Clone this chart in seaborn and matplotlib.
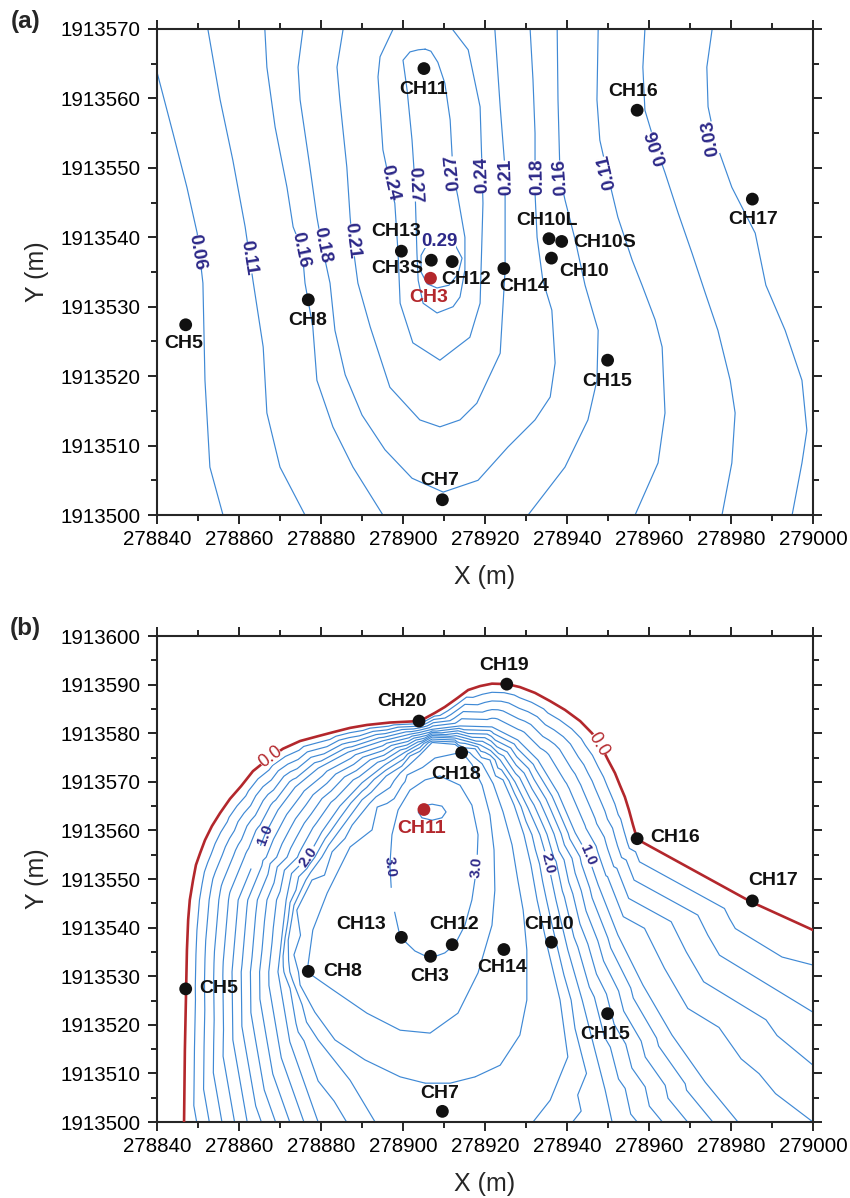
import numpy as np
import pandas as pd
import matplotlib
matplotlib.use("Agg")
import matplotlib.pyplot as plt
import matplotlib.tri as mtri
from matplotlib.path import Path
from matplotlib.patches import PathPatch
from matplotlib.ticker import MultipleLocator, FormatStrFormatter
import seaborn as sns

# ----------------------------------------------------------------- wells
WELL_NAMES = ["CH3", "CH3S", "CH5", "CH7", "CH8", "CH10", "CH10L", "CH10S", "CH11",
              "CH12", "CH13", "CH14", "CH15", "CH16", "CH17", "CH18", "CH19", "CH20"]
WELL_X = [278906.7, 278906.9, 278847.0, 278909.6, 278876.9, 278936.2, 278935.6, 278938.7, 278905.1,
          278912.0, 278899.6, 278924.6, 278949.9, 278957.1, 278985.2, 278914.3, 278925.3, 278903.9]
WELL_Y = [1913534.1, 1913536.7, 1913527.4, 1913502.2, 1913531.0, 1913537.0, 1913539.8, 1913539.4, 1913564.3,
          1913536.5, 1913538.0, 1913535.5, 1913522.3, 1913558.3, 1913545.5, 1913576.0, 1913590.1, 1913582.5]
A_WELLS = ["CH11", "CH16", "CH17", "CH10L", "CH10S", "CH10", "CH13", "CH3S", "CH12", "CH3",
           "CH14", "CH5", "CH8", "CH15", "CH7"]
A_HIGHLIGHT = "CH3"
B_WELLS = ["CH19", "CH20", "CH18", "CH11", "CH16", "CH17", "CH13", "CH12", "CH3", "CH14",
           "CH10", "CH8", "CH5", "CH15", "CH7"]
B_HIGHLIGHT = "CH11"

# ------------------------------------------------ panel (a) contour lines
A003_X = [278975.4, 278974.1, 278974.4, 278976.1, 278980.2, 278985.9, 278988.5, 278993.2, 278997.3, 278998.5, 278997.3, 278994.9]
A003_Y = [1913570.0, 1913564.5, 1913558.8, 1913554.0, 1913547.2, 1913540.6, 1913533.1, 1913526.6, 1913519.4, 1913512.2, 1913507.5, 1913500.0]
A006L_X = [278840.0, 278843.9, 278847.3, 278849.8, 278851.2, 278851.7, 278852.9, 278856.1]
A006L_Y = [1913563.8, 1913555.0, 1913547.2, 1913540.6, 1913533.4, 1913519.4, 1913506.9, 1913500.0]
A006R_X = [278959.0, 278958.5, 278959.0, 278961.7, 278963.9, 278967.1, 278970.5, 278973.7, 278976.8, 278979.8, 278981.0, 278980.2, 278977.8]
A006R_Y = [1913570.0, 1913564.5, 1913558.3, 1913553.0, 1913549.3, 1913543.5, 1913537.7, 1913532.0, 1913526.6, 1913519.4, 1913514.7, 1913507.5, 1913500.0]
A011L_X = [278852.4, 278855.4, 278858.5, 278861.5, 278863.4, 278865.9, 278866.8, 278870.0, 278876.1]
A011L_Y = [1913570.0, 1913559.8, 1913551.1, 1913541.5, 1913533.8, 1913524.2, 1913514.7, 1913506.9, 1913500.0]
A011R_X = [278947.6, 278947.3, 278948.0, 278949.8, 278952.4, 278955.9, 278958.3, 278961.5, 278963.2, 278963.9, 278962.2, 278956.6]
A011R_Y = [1913570.0, 1913559.8, 1913554.0, 1913549.3, 1913542.9, 1913536.7, 1913533.1, 1913528.1, 1913524.2, 1913514.7, 1913507.5, 1913500.0]
A016L_X = [278866.3, 278866.8, 278868.8, 278871.7, 278873.2, 278875.4, 278876.1, 278878.0, 278879.0, 278882.9, 278887.8, 278895.1]
A016L_Y = [1913570.0, 1913564.5, 1913555.9, 1913547.2, 1913541.5, 1913538.2, 1913533.4, 1913527.1, 1913519.4, 1913512.7, 1913506.9, 1913500.0]
A016R_X = [278937.6, 278937.8, 278938.3, 278939.5, 278942.0, 278944.4, 278947.6, 278947.3, 278945.1, 278939.5, 278930.5]
A016R_Y = [1913570.0, 1913559.8, 1913548.7, 1913545.4, 1913539.6, 1913533.1, 1913526.6, 1913519.4, 1913513.7, 1913506.9, 1913500.0]
A018_X = [278875.6, 278874.4, 278874.9, 278877.3, 278879.0, 278880.2, 278882.2, 278883.4, 278885.9, 278890.0, 278895.6, 278902.2, 278909.8,
          278918.3, 278925.6, 278932.2, 278935.9, 278937.1, 278936.3, 278934.1, 278932.7, 278932.2, 278932.2, 278931.7, 278931.0]
A018_Y = [1913570.0, 1913564.5, 1913559.8, 1913550.1, 1913542.9, 1913538.9, 1913533.4, 1913526.6, 1913520.2, 1913514.4, 1913509.4, 1913505.3, 1913503.3,
          1913505.0, 1913509.8, 1913513.7, 1913517.0, 1913521.9, 1913529.5, 1913533.8, 1913540.0, 1913546.4, 1913555.0, 1913562.7, 1913570.0]
A021_X = [278885.4, 278883.9, 278884.6, 278886.3, 278887.1, 278887.6, 278889.0, 278892.0, 278896.8, 278904.1, 278909.0, 278913.9,
          278918.0, 278923.7, 278924.9, 278924.9, 278923.7, 278922.4]
A021_Y = [1913570.0, 1913564.5, 1913559.8, 1913550.1, 1913542.9, 1913539.6, 1913533.4, 1913527.1, 1913518.4, 1913513.7, 1913512.7, 1913513.7,
          1913516.1, 1913523.3, 1913535.3, 1913549.7, 1913558.8, 1913570.0]
A024_X = [278897.6, 278894.4, 278893.9, 278895.1, 278896.8, 278898.0, 278898.8, 278899.3, 278902.4, 278909.0, 278916.3, 278918.8,
          278919.5, 278919.3, 278918.8, 278917.6, 278915.9, 278912.0]
A024_Y = [1913570.0, 1913566.0, 1913563.1, 1913552.6, 1913547.8, 1913544.9, 1913537.7, 1913530.5, 1913524.8, 1913522.3, 1913525.6, 1913530.5,
          1913544.9, 1913549.3, 1913558.8, 1913562.2, 1913567.0, 1913570.0]
A027_X = [278905.4, 278906.8, 278908.5, 278910.2, 278911.5, 278912.2, 278913.4, 278915.1, 278915.1, 278913.9, 278912.2, 278908.3, 278904.9,
          278903.7, 278903.4, 278902.9, 278902.2, 278901.0, 278900.0, 278901.7, 278903.7, 278905.4]
A027_Y = [1913567.1, 1913566.8, 1913565.2, 1913562.2, 1913556.9, 1913549.3, 1913545.8, 1913540.0, 1913535.3, 1913531.4, 1913530.0, 1913529.1, 1913530.5,
          1913533.8, 1913537.7, 1913547.8, 1913554.0, 1913561.2, 1913565.5, 1913566.7, 1913567.0, 1913567.1]
A029_X = [278909.0, 278905.9, 278904.4, 278904.4, 278905.9, 278908.3, 278911.2, 278913.4, 278914.4, 278912.7, 278909.0]
A029_Y = [1913539.5, 1913539.0, 1913537.4, 1913535.0, 1913533.3, 1913532.7, 1913533.1, 1913534.7, 1913537.0, 1913538.9, 1913539.5]

A_LAB_TEXT = ["0.06", "0.11", "0.16", "0.18", "0.21", "0.24", "0.27", "0.29",
              "0.27", "0.24", "0.21", "0.18", "0.16", "0.11", "0.06", "0.03"]

# ------------------------------------------ panel (b) field samples (x, y) per value
B00_X = [278846.6, 278846.8, 278847.1, 278847.3, 278847.6, 278848.0, 278848.8, 278849.5, 278850.5, 278851.7, 278853.4, 278855.4,
         278857.8, 278860.5, 278863.4, 278866.8, 278870.7, 278874.9, 278879.3, 278882.9, 278887.1, 278891.2, 278896.8, 278903.9,
         278905.4, 278907.8, 278910.2, 278913.2, 278915.9, 278918.8, 278921.7, 278925.4, 278928.5, 278932.2, 278935.9, 278939.5,
         278943.2, 278946.1, 278948.3, 278950.0, 278951.7, 278952.9, 278954.1, 278955.1, 278956.1, 278956.8, 278957.1, 278959.0,
         278984.9, 279000.0]
B00_Y = [1913500.0, 1913514.8, 1913527.2, 1913535.4, 1913541.6, 1913545.7, 1913549.8, 1913552.9, 1913555.3, 1913558.0, 1913560.9, 1913563.6,
         1913566.5, 1913569.1, 1913572.2, 1913574.5, 1913576.8, 1913578.4, 1913579.4, 1913580.2, 1913581.1, 1913581.7, 1913582.2, 1913582.5,
         1913583.1, 1913584.2, 1913585.4, 1913587.2, 1913588.9, 1913589.7, 1913590.2, 1913590.1, 1913589.5, 1913588.3, 1913586.6, 1913584.8,
         1913582.5, 1913580.0, 1913577.4, 1913574.5, 1913571.8, 1913569.3, 1913566.9, 1913564.2, 1913561.1, 1913559.1, 1913558.2, 1913557.3,
         1913545.3, 1913539.5]
B10_X = [278862.0, 278858.5, 278858.3, 278859.8, 278864.1, 278866.3, 278869.5, 278873.7, 278879.3, 278886.6, 278894.9, 278901.7, 278907.1,
         278913.9, 278921.7, 278928.0, 278932.9, 278937.8, 278942.0, 278945.1, 278947.6, 278952.4, 278958.5, 278965.6, 278973.7, 278981.7]
B10_Y = [1913500.0, 1913516.9, 1913530.9, 1913545.7, 1913554.5, 1913559.1, 1913564.2, 1913568.9, 1913572.8, 1913576.1, 1913578.4, 1913579.8, 1913580.8,
         1913581.5, 1913581.3, 1913578.6, 1913574.5, 1913567.7, 1913559.5, 1913554.9, 1913548.8, 1913538.5, 1913528.2, 1913517.9, 1913508.2, 1913500.0]
B20_X = [278879.3, 278872.4, 278869.5, 278870.5, 278871.5, 278876.8, 278880.2, 278884.6, 278890.0, 278895.6, 278900.5, 278904.1, 278907.1,
         278912.7, 278918.8, 278923.7, 278927.3, 278930.5, 278933.4, 278935.4, 278937.3, 278940.2, 278943.7, 278946.8, 278949.3, 278951.0]
B20_Y = [1913500.0, 1913516.5, 1913530.9, 1913538.5, 1913545.7, 1913554.5, 1913559.7, 1913565.0, 1913569.8, 1913573.5, 1913576.1, 1913577.8, 1913579.2,
         1913579.0, 1913577.6, 1913574.5, 1913570.0, 1913564.6, 1913559.1, 1913553.3, 1913545.7, 1913535.4, 1913525.1, 1913514.8, 1913506.6, 1913500.0]
B24_X = [278893.2, 278887.1, 278879.3, 278875.4, 278872.4, 278872.0, 278873.4, 278876.3, 278880.2, 278884.6, 278890.0, 278895.9, 278901.7, 278907.1,
         278912.7, 278917.6, 278921.2, 278924.4, 278927.1, 278929.5, 278931.2, 278932.7, 278935.4, 278938.3, 278940.2, 278935.9, 278931.7]
B24_Y = [1913500.0, 1913508.6, 1913516.9, 1913524.1, 1913530.9, 1913537.4, 1913544.6, 1913549.8, 1913554.5, 1913560.1, 1913566.3, 1913571.2, 1913575.3, 1913578.4,
         1913578.2, 1913576.8, 1913574.5, 1913570.4, 1913565.2, 1913559.1, 1913552.9, 1913545.7, 1913535.4, 1913525.1, 1913513.4, 1913504.5, 1913500.0]
B26_X = [278907.1, 278912.7, 278916.3, 278919.3, 278922.0, 278924.4, 278926.6, 278928.0, 278929.3, 278930.2, 278930.2, 278928.5, 278923.7, 278917.6,
         278911.5, 278905.4, 278899.3, 278890.7, 278883.4, 278878.5, 278874.9, 278873.4, 278874.1, 278877.8, 278882.7, 278887.6, 278893.4, 278899.3, 278904.1]
B26_Y = [1913578.1, 1913577.7, 1913576.0, 1913573.7, 1913569.6, 1913563.8, 1913557.0, 1913549.8, 1913543.6, 1913535.4, 1913525.1, 1913517.9, 1913511.7, 1913509.3,
         1913508.0, 1913508.0, 1913509.3, 1913512.8, 1913516.9, 1913522.6, 1913528.2, 1913534.4, 1913543.6, 1913549.8, 1913555.6, 1913561.1, 1913566.9, 1913571.8, 1913575.5]
B28_X = [278876.6, 278878.0, 278881.5, 278887.1, 278893.7, 278901.0, 278907.8, 278914.4, 278916.8, 278919.3, 278921.2, 278922.2, 278922.4, 278921.7,
         278918.3, 278913.4, 278906.6, 278899.3, 278891.2, 278882.9]
B28_Y = [1913530.9, 1913539.5, 1913547.1, 1913556.6, 1913564.8, 1913571.4, 1913574.9, 1913576.1, 1913573.6, 1913569.3, 1913563.2, 1913556.0, 1913547.7, 1913540.5,
         1913530.7, 1913522.4, 1913518.3, 1913518.9, 1913522.4, 1913527.2]
B30_X = [278909.0, 278905.4, 278901.7, 278898.8, 278897.3, 278896.8, 278897.3, 278899.3, 278902.9, 278906.6, 278910.2, 278912.7, 278915.1, 278916.8,
         278918.0, 278918.3, 278916.8, 278913.9]
B30_Y = [1913571.2, 1913570.4, 1913568.3, 1913564.2, 1913559.1, 1913552.9, 1913545.7, 1913538.1, 1913535.2, 1913533.7, 1913534.8, 1913536.6, 1913540.5, 1913545.7,
         1913552.5, 1913559.1, 1913565.2, 1913569.3]
B32_X = [278903.7, 278904.6, 278907.1, 278909.5, 278910.5, 278909.5, 278907.1, 278904.6]
B32_Y = [1913563.8, 1913565.0, 1913565.4, 1913565.0, 1913563.8, 1913562.6, 1913562.1, 1913562.6]
BPEAK_X = [278907.1]
BPEAK_Y = [1913563.8]
BPEAK_V = [3.3]
B25_X = [278912.7, 278912.7]
B25_Y = [1913500.0, 1913504.5]
BEDGE_X = [279000.0, 279000.0, 279000.0, 279000.0]
BEDGE_Y = [1913532.3, 1913522.6, 1913511.7, 1913500.0]
BEDGE_V = [0.2, 0.4, 0.6, 0.8]
B_LEVELS = [0.2, 0.4, 0.6, 0.8, 1.0, 1.2, 1.4, 1.6, 1.8, 2.0, 2.2, 2.4, 2.6, 2.8, 3.0, 3.2]

# ----------------------------------------------------------------- style
BLUE = "#3f89d5"
RED = "#b3272c"
LABC = "#2c2888"
FONT = ["Liberation Sans", "DejaVu Sans"]

sns.set_style("ticks")
plt.rcParams["font.family"] = FONT

fig = plt.figure(figsize=(8.5, 11.98), dpi=100)
axa = fig.add_axes([0.1847, 0.5701, 0.7718, 0.4057])
axb = fig.add_axes([0.1847, 0.0634, 0.7718, 0.4057])


def style_axes(ax, ylo, yhi):
    ax.set_xlim(278840, 279000)
    ax.set_ylim(ylo, yhi)
    ax.xaxis.set_major_locator(MultipleLocator(20))
    ax.xaxis.set_minor_locator(MultipleLocator(10))
    ax.yaxis.set_major_locator(MultipleLocator(10))
    ax.yaxis.set_minor_locator(MultipleLocator(5))
    ax.xaxis.set_major_formatter(FormatStrFormatter("%d"))
    ax.yaxis.set_major_formatter(FormatStrFormatter("%d"))
    ax.tick_params(which="both", direction="out", top=True, right=True,
                   labeltop=False, labelright=False, width=1.2, colors="black")
    ax.tick_params(which="major", length=6.5, labelsize=14.8)
    ax.tick_params(axis="x", which="major", pad=4.5)
    ax.tick_params(axis="y", which="major", pad=5.5)
    ax.tick_params(which="minor", length=4)
    for s in ax.spines.values():
        s.set_linewidth(1.5)
        s.set_visible(True)
    ax.set_xlabel("X (m)", fontsize=18, labelpad=11)
    ax.set_ylabel("Y (m)", fontsize=18, labelpad=8)


def draw_wells(ax, names, highlight, offsets):
    idx = [WELL_NAMES.index(n) for n in names]
    df = pd.DataFrame({"x": [WELL_X[i] for i in idx], "y": [WELL_Y[i] for i in idx],
                       "hl": [n == highlight for n in names]})
    sns.scatterplot(data=df, x="x", y="y", hue="hl", palette={False: "#111111", True: RED},
                    s=85, edgecolor="none", legend=False, ax=ax, zorder=6)
    for n, x, y in zip(names, df["x"], df["y"]):
        dx, dy, ha = offsets[n]
        ax.annotate(n, (x, y), xytext=(dx, dy), textcoords="offset points", ha=ha, va="center",
                    fontsize=14, fontweight="bold", color=RED if n == highlight else "#111111", zorder=7)


# ------------------------------------------------------------- panel (a)
A_LINES = [(A003_X, A003_Y), (A006L_X, A006L_Y), (A006R_X, A006R_Y), (A011L_X, A011L_Y),
           (A011R_X, A011R_Y), (A016L_X, A016L_Y), (A016R_X, A016R_Y), (A018_X, A018_Y),
           (A021_X, A021_Y), (A024_X, A024_Y), (A027_X, A027_Y), (A029_X, A029_Y)]
frames = []
for i, (xs, ys) in enumerate(A_LINES):
    frames.append(pd.DataFrame({"x": xs, "y": ys, "seg": i}))
dfa = pd.concat(frames, ignore_index=True)
sns.lineplot(data=dfa, x="x", y="y", units="seg", estimator=None, sort=False,
             color=BLUE, linewidth=0.85, ax=axa, legend=False, zorder=2)

a_lab_pos = [(278849.8, 1913537.9, -80), (278862.2, 1913537.0, -81), (278875.1, 1913538.2, -78),
             (278880.2, 1913538.9, -79), (278887.6, 1913539.6, -83), (278896.8, 1913547.8, -77),
             (278902.9, 1913547.5, -87), (278909.0, 1913539.4, 0), (278912.2, 1913549.3, 96),
             (278919.3, 1913549.0, 92), (278925.1, 1913548.7, 92), (278932.7, 1913548.7, 91),
             (278938.3, 1913548.7, 94), (278949.8, 1913549.4, 103), (278962.0, 1913553.0, 108),
             (278975.1, 1913554.3, 100)]
for t, (x, y, r) in zip(A_LAB_TEXT, a_lab_pos):
    axa.text(x, y, t, rotation=r, rotation_mode="anchor", ha="center", va="center",
             fontsize=13.5, fontweight="bold", color=LABC, zorder=4,
             bbox=dict(boxstyle="square,pad=-0.1", fc="white", ec="none"))

a_off = {"CH11": (0, -15, "center"), "CH16": (-3, 13.7, "center"), "CH17": (0.7, -14.4, "center"),
         "CH10L": (-1.4, 13, "center"), "CH10S": (8, -0.7, "left"), "CH10": (5.8, -9.4, "left"),
         "CH13": (14.4, 14.4, "right"), "CH3S": (-5.8, -5.8, "right"), "CH12": (10, -13, "center"),
         "CH3": (-1.4, -13.7, "center"), "CH14": (14.4, -13, "center"), "CH5": (-1.4, -13.7, "center"),
         "CH8": (-0.7, -15, "center"), "CH15": (-0.7, -15, "center"), "CH7": (-2, 13.7, "center")}
draw_wells(axa, A_WELLS, A_HIGHLIGHT, a_off)
style_axes(axa, 1913500, 1913570)

# ------------------------------------------------------------- panel (b)
sets = [(B00_X, B00_Y, 0.0), (B10_X, B10_Y, 1.0), (B20_X, B20_Y, 2.0), (B24_X, B24_Y, 2.4),
        (B26_X, B26_Y, 2.6), (B28_X, B28_Y, 2.8), (B30_X, B30_Y, 3.0), (B32_X, B32_Y, 3.2),
        (B25_X, B25_Y, 2.5)]
px, py, pz = [], [], []
for xs, ys, v in sets:
    px += list(xs); py += list(ys); pz += [v] * len(xs)
px += BPEAK_X + BEDGE_X
py += BPEAK_Y + BEDGE_Y
pz += BPEAK_V + BEDGE_V
px = np.array(px); py = np.array(py); pz = np.array(pz)

X0, Y0 = 278840.0, 1913500.0
base = mtri.Triangulation(px - X0, py - Y0)
tri = mtri.Triangulation(px, py, triangles=base.triangles)
cs = axb.tricontour(tri, pz, levels=np.array(B_LEVELS) - 1e-6, colors=BLUE, linewidths=0.85, zorder=2)
region = np.column_stack([B00_X + [279000.0, B00_X[0]], B00_Y + [1913500.0, B00_Y[0]]])
clip = PathPatch(Path(region, closed=True), transform=axb.transData, fc="none", ec="none")
cs.set_clip_path(clip)

b_lab_pos = [(278866.3, 1913559.1), (278945.1, 1913554.9), (278876.8, 1913554.5),
             (278935.4, 1913553.3), (278897.6, 1913552.5), (278918.0, 1913552.5)]
axb.clabel(cs, manual=b_lab_pos, inline=True, inline_spacing=3,
           fmt=lambda v: f"{v:.1f}", fontsize=10.8, colors=LABC)
for t in cs.labelTexts:
    t.set_fontweight("bold")

sns.lineplot(x=B00_X, y=B00_Y, sort=False, estimator=None, color=RED, linewidth=1.9, ax=axb, zorder=3)
for x, y, r in [(278867.6, 1913575.1, 37), (278947.6, 1913577.6, -59)]:
    axb.text(x, y, "0.0", rotation=r, rotation_mode="anchor", ha="center", va="center",
             fontsize=13, color=RED, zorder=4,
             bbox=dict(boxstyle="square,pad=-0.05", fc="white", ec="none"))

b_off = {"CH19": (-2, 13.7, "center"), "CH20": (-12, 14.4, "center"), "CH18": (-4.3, -15.8, "center"),
         "CH11": (-1.4, -13.7, "center"), "CH16": (9.4, 0.7, "left"), "CH17": (15, 14.4, "center"),
         "CH13": (-28.8, 9.4, "center"), "CH12": (1.4, 14.4, "center"), "CH3": (-0.7, -14.4, "center"),
         "CH14": (-1.4, -13, "center"), "CH10": (-1.4, 13, "center"), "CH8": (10.8, 0, "left"),
         "CH5": (9.4, 0, "left"), "CH15": (-2, -15, "center"), "CH7": (-2, 13, "center")}
draw_wells(axb, B_WELLS, B_HIGHLIGHT, b_off)
style_axes(axb, 1913500, 1913600)

fig.text(0.013, 0.992, "(a)", fontsize=17.5, fontweight="bold", ha="left", va="top")
fig.text(0.012, 0.485, "(b)", fontsize=17.5, fontweight="bold", ha="left", va="top")

fig.savefig("out.png", dpi=100)
